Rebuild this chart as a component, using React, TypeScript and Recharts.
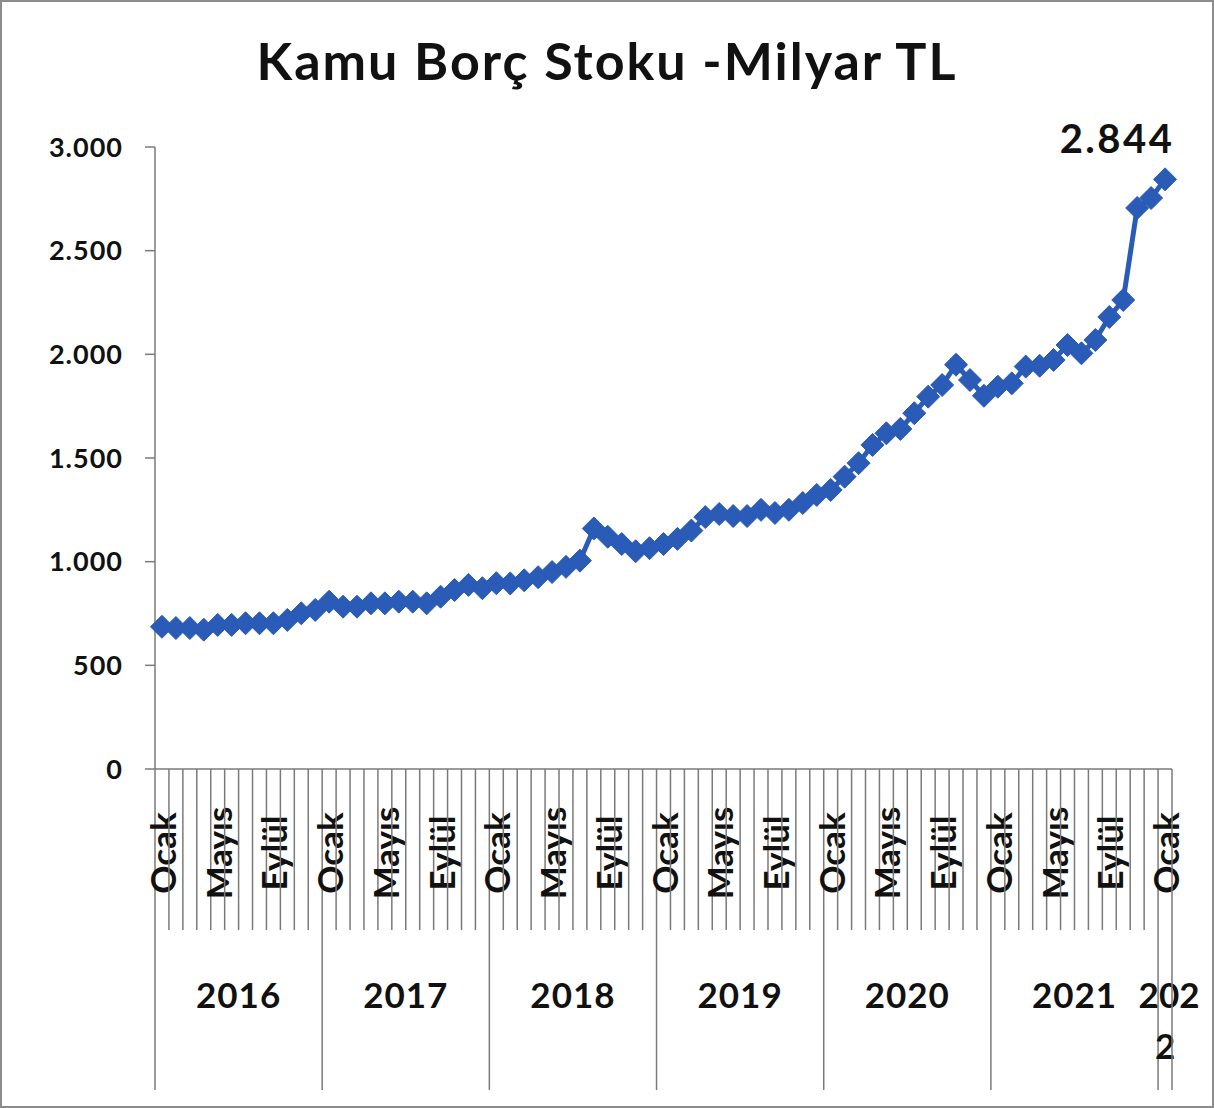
import { LabelList, Line, LineChart, XAxis, YAxis } from "recharts";

const months = [
  "Ocak", "Şubat", "Mart", "Nisan", "Mayıs", "Haziran",
  "Temmuz", "Ağustos", "Eylül", "Ekim", "Kasım", "Aralık",
];
const years = ["2016", "2017", "2018", "2019", "2020", "2021", "2022"];

// Kamu borç stoku, milyar TL (Ocak 2016 - Ocak 2022)
const debt2016 = [686, 680, 680, 672, 695, 695, 703, 703, 703, 719, 751, 767];
const debt2017 = [807, 783, 783, 799, 799, 807, 807, 799, 831, 863, 888, 872];
const debt2018 = [896, 895, 910, 925, 950, 975, 1005, 1160, 1120, 1085, 1050, 1065];
const debt2019 = [1085, 1110, 1150, 1215, 1230, 1220, 1220, 1250, 1235, 1250, 1283, 1322];
const debt2020 = [1346, 1410, 1475, 1563, 1619, 1640, 1716, 1796, 1852, 1950, 1876, 1800];
const debt2021 = [1844, 1860, 1941, 1945, 1973, 2045, 2005, 2069, 2180, 2262, 2706, 2754];
const debt2022 = [2844];

const yTicks = [0, 500, 1000, 1500, 2000, 2500, 3000];

const series = [debt2016, debt2017, debt2018, debt2019, debt2020, debt2021, debt2022];
const data = series.flatMap((vals, yi) =>
  vals.map((v, mi) => ({
    x: yi * 12 + mi + 0.5,
    month: months[mi],
    year: years[yi],
    value: v,
  }))
);
const total = data.length; // 73
const xTicks = Array.from({ length: total + 1 }, (_, i) => i);

const W = 1214;
const H = 1108;
const PLOT_LEFT = 155;
const PLOT_RIGHT = 1172;
const STEP = (PLOT_RIGHT - PLOT_LEFT) / total;

const BLUE = "#2A5BB6";
const AXIS = "#7a7a7a";
const FONT = "Lato, 'Open Sans', sans-serif";

const fmt = (v: number) => v.toLocaleString("de-DE");

function XTick(props: any) {
  const { x, y, payload } = props;
  const i: number = payload.value;
  const isYearLine = i % 12 === 0 || i === total;
  const yi = Math.floor(i / 12);
  const monthIdx = i % 12;
  const yearCount = series[yi] ? series[yi].length : 0;
  return (
    <g>
      <line
        x1={x}
        x2={x}
        y1={y}
        y2={y + (isYearLine ? 321 : 161)}
        stroke={AXIS}
        strokeWidth={1.5}
      />
      {i < total && monthIdx % 4 === 0 && (
        <text
          transform={`translate(${x + STEP / 2}, ${y + 84}) rotate(-90)`}
          textAnchor="middle"
          dominantBaseline="central"
          fontFamily={FONT}
          fontWeight={700}
          fontSize={35}
          fill="#111"
        >
          {months[monthIdx]}
        </text>
      )}
      {i < total && monthIdx === 0 && yearCount === 12 && (
        <text
          x={x + STEP * 6}
          y={y + 239}
          textAnchor="middle"
          fontFamily={FONT}
          fontWeight={700}
          fontSize={35}
          letterSpacing={1}
          fill="#111"
        >
          {years[yi]}
        </text>
      )}
      {i < total && monthIdx === 0 && yearCount < 12 && (
        <text
          y={y + 239}
          textAnchor="middle"
          fontFamily={FONT}
          fontWeight={700}
          fontSize={35}
          fill="#111"
        >
          <tspan x={x + STEP / 2 + 4}>{years[yi].slice(0, 3)}</tspan>
          <tspan x={x + STEP / 2} dy={51}>{years[yi].slice(3)}</tspan>
        </text>
      )}
    </g>
  );
}

function Diamond(props: any) {
  const { cx, cy } = props;
  if (cx == null || cy == null) return null;
  const r = 11.5;
  return (
    <polygon
      points={`${cx},${cy - r} ${cx + r},${cy} ${cx},${cy + r} ${cx - r},${cy}`}
      fill={BLUE}
      stroke={BLUE}
      strokeWidth={1}
    />
  );
}

function LastLabel(props: any) {
  const { x, y, value, index } = props;
  if (index !== total - 1) return null;
  return (
    <text
      x={x - 48}
      y={y - 26}
      textAnchor="middle"
      fontFamily={FONT}
      fontWeight={700}
      fontSize={40}
      letterSpacing={2.5}
      fill="#111"
    >
      {fmt(value)}
    </text>
  );
}

export default function App() {
  return (
    <div style={{ position: "relative", width: W, height: H, background: "#fff" }}>
      <style>{`body{margin:0}`}</style>
      <div
        style={{
          position: "absolute",
          left: 0,
          top: 0,
          width: W,
          height: H,
          boxSizing: "border-box",
          border: "2px solid #8c8c8c",
          pointerEvents: "none",
        }}
      />
      <div
        style={{
          position: "absolute",
          left: 0,
          width: W,
          top: 30,
          textAlign: "center",
          fontFamily: FONT,
          fontWeight: 700,
          fontSize: 52,
          letterSpacing: 2,
          lineHeight: "60px",
          color: "#111",
        }}
      >
        Kamu Borç Stoku -Milyar TL
      </div>
      <LineChart
        width={W}
        height={H}
        data={data}
        margin={{ top: 147, right: W - PLOT_RIGHT, left: PLOT_LEFT - 120, bottom: 9 }}
      >
        <XAxis
          dataKey="x"
          type="number"
          domain={[0, total]}
          ticks={xTicks}
          interval={0}
          tickLine={false}
          tickSize={0}
          tickMargin={0}
          height={330}
          axisLine={{ stroke: AXIS, strokeWidth: 1.5 }}
          tick={<XTick />}
        />
        <YAxis
          domain={[0, 3000]}
          ticks={yTicks}
          interval={0}
          width={120}
          tickFormatter={fmt}
          tickSize={10}
          tickMargin={22}
          tickLine={{ stroke: AXIS, strokeWidth: 1.5 }}
          axisLine={{ stroke: AXIS, strokeWidth: 1.5 }}
          tick={{ fontFamily: FONT, fontSize: 27, fontWeight: 700, fill: "#111", letterSpacing: 1 }}
        />
        <Line
          dataKey="value"
          stroke={BLUE}
          strokeWidth={5}
          dot={<Diamond />}
          isAnimationActive={false}
        >
          <LabelList dataKey="value" content={<LastLabel />} />
        </Line>
      </LineChart>
    </div>
  );
}
